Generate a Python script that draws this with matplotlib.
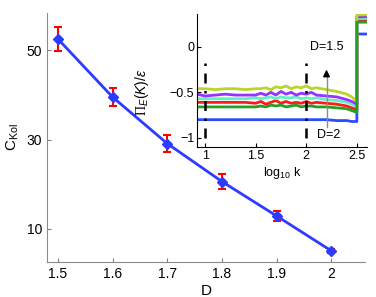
import matplotlib
matplotlib.use('Agg')
import matplotlib.pyplot as plt

# main panel: Kolmogorov constant vs D
D = [1.5, 1.6, 1.7, 1.8, 1.9, 2.0]
c_kol = [52.5, 39.5, 29.1, 20.6, 12.9, 5.1]
c_err = [2.7, 2.1, 2.0, 1.7, 1.2, 0.4]

# inset: flux curves vs log10 k
log_k = [0.92, 1.0, 1.1, 1.2, 1.3, 1.4, 1.5, 1.55, 1.6, 1.65, 1.7, 1.75, 1.8,
         1.85, 1.9, 1.95, 2.0, 2.05, 2.1, 2.2, 2.3, 2.4, 2.45, 2.5, 2.5, 2.6]
flux_15 = [-0.46, -0.46, -0.47, -0.46, -0.46, -0.47, -0.46, -0.46, -0.45, -0.47, -0.44, -0.45, -0.43,
           -0.46, -0.44, -0.45, -0.43, -0.46, -0.45, -0.47, -0.49, -0.52, -0.55, -0.60, 0.35, 0.35]
flux_16 = [-0.52, -0.54, -0.53, -0.52, -0.53, -0.53, -0.53, -0.51, -0.53, -0.50, -0.53, -0.49, -0.52,
           -0.50, -0.53, -0.51, -0.52, -0.50, -0.53, -0.54, -0.55, -0.58, -0.60, -0.63, 0.33, 0.33]
flux_17 = [-0.57, -0.57, -0.57, -0.57, -0.57, -0.57, -0.56, -0.57, -0.56, -0.55, -0.57, -0.55, -0.56,
           -0.56, -0.55, -0.57, -0.56, -0.57, -0.56, -0.58, -0.59, -0.61, -0.63, -0.66, 0.31, 0.31]
flux_18 = [-0.61, -0.61, -0.61, -0.61, -0.61, -0.61, -0.62, -0.60, -0.63, -0.61, -0.59, -0.62, -0.60,
           -0.62, -0.61, -0.62, -0.60, -0.62, -0.61, -0.62, -0.63, -0.65, -0.67, -0.69, 0.29, 0.29]
flux_19 = [-0.66, -0.66, -0.66, -0.66, -0.66, -0.66, -0.66, -0.65, -0.66, -0.64, -0.65, -0.64, -0.66,
           -0.65, -0.64, -0.66, -0.65, -0.65, -0.66, -0.66, -0.67, -0.68, -0.70, -0.72, 0.27, 0.27]
flux_20 = [-0.80, -0.80, -0.80, -0.80, -0.80, -0.80, -0.80, -0.80, -0.80, -0.80, -0.80, -0.80, -0.80,
           -0.80, -0.80, -0.80, -0.80, -0.80, -0.80, -0.80, -0.81, -0.81, -0.82, -0.82, 0.14, 0.14]

plt.rcParams['font.family'] = ['Liberation Sans', 'DejaVu Sans']
plt.rcParams['mathtext.fontset'] = 'custom'
plt.rcParams['mathtext.rm'] = 'Liberation Sans'
plt.rcParams['mathtext.it'] = 'Liberation Sans:italic'
plt.rcParams['mathtext.sf'] = 'Liberation Serif'

fig = plt.figure(figsize=(3.76, 2.97), dpi=100)
ax = fig.add_axes([0.125, 0.118, 0.846, 0.838])

blue = '#2b3bff'
ax.errorbar(D, c_kol, yerr=c_err, fmt='none', ecolor='red', elinewidth=1.5,
            capsize=3, capthick=1.5, zorder=2)
ax.plot(D, c_kol, '-D', color=blue, lw=2, ms=5, zorder=3)

ax.set_xlim(1.48, 2.062)
ax.set_ylim(2.6, 58.3)
ax.set_xticks([1.5, 1.6, 1.7, 1.8, 1.9, 2])
ax.set_xticklabels(['1.5', '1.6', '1.7', '1.8', '1.9', '2'])
ax.set_yticks([10, 30, 50])
ax.tick_params(direction='in', length=3, color='0.5', labelsize=10)
for s in ['top', 'right']:
    ax.spines[s].set_visible(False)
for s in ['left', 'bottom']:
    ax.spines[s].set_color('0.55')
ax.set_xlabel('D', fontsize=11, labelpad=2)
ax.set_ylabel(r'C$_{\rm Kol}$', fontsize=11, labelpad=4)

# inset
ins = fig.add_axes([0.524, 0.505, 0.452, 0.448])
curves = [(flux_20, '#2a4bff'), (flux_18, '#ff1a1a'), (flux_17, '#5ef2c2'),
          (flux_16, '#9b30ff'), (flux_15, '#bcd42a'), (flux_19, '#22a022')]
for vals, col in curves:
    ins.plot(log_k, vals, color=col, lw=2)

for xv in [1, 2]:
    ins.plot([xv, xv], [-1.0, -0.17], color='k', lw=1.8, ls=(0, (4, 3, 1, 3)))

ins.plot([2.2, 2.2], [-0.88, -0.3], color='0.55', lw=1)
ins.annotate('', xy=(2.2, -0.22), xytext=(2.2, -0.32),
             arrowprops=dict(arrowstyle='-|>', color='k', lw=1, mutation_scale=10))
ins.text(2.2, 0.0, 'D=1.5', fontsize=9, ha='center', va='center')
ins.text(2.22, -0.97, 'D=2', fontsize=9, ha='center', va='center')

ins.set_xlim(0.92, 2.6)
ins.set_ylim(-1.1, 0.36)
ins.set_xticks([1, 1.5, 2, 2.5])
ins.set_xticklabels(['1', '1.5', '2', '2.5'])
ins.set_yticks([-1, -0.5, 0])
ins.set_yticklabels(['\u22121', '\u22120.5', '0'])
ins.tick_params(direction='in', length=3, labelsize=9, pad=2)
for s in ['top', 'right']:
    ins.spines[s].set_visible(False)
ins.set_xlabel(r'log$_{10}$ k', fontsize=9, labelpad=2)
ins.set_ylabel(r'$\mathsf{\Pi}_E(K)/\varepsilon$', fontsize=10)
ins.yaxis.set_label_coords(-0.27, 0.41)
ins.patch.set_alpha(0)

fig.savefig('out.png', dpi=100)
